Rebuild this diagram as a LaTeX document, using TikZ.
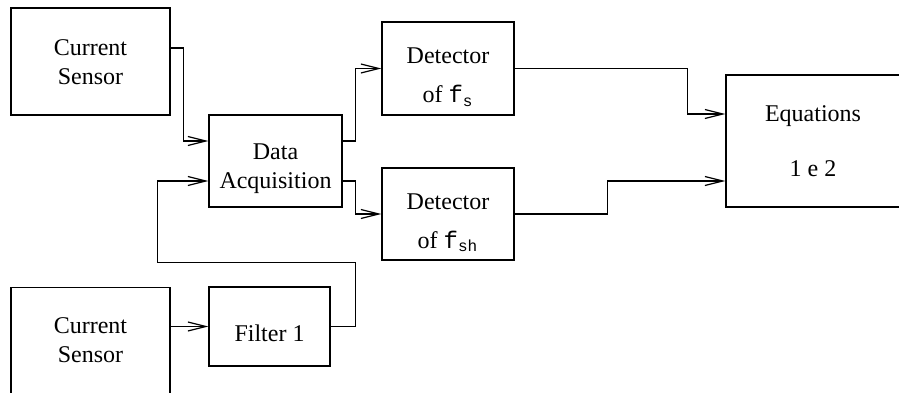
\documentclass[tikz,border=0pt]{standalone}
\usepackage{amsmath}
\usepackage{fontspec}
\setmainfont{Liberation Serif}
\setmonofont{Liberation Mono}
\usepackage{tikz}
\usetikzlibrary{positioning,arrows.meta}

% text set lower in its box, box size unchanged
\newcommand{\lowered}[2]{\raisebox{-#1}[\height][\depth]{\begin{tabular}{@{}c@{}}#2\end{tabular}}}

\begin{document}
\begin{tikzpicture}[
      x=0.5pt, y=-0.5pt,
      box/.style={draw, rectangle, line width=0.6pt, align=center,
                  inner sep=0pt, font=\fontsize{12}{14.5}\selectfont},
      arr/.style={line width=0.6pt, -{Straight Barb[length=9pt,width=4.5pt]}},
    ]
    \useasboundingbox (0,0) rectangle (899,392);
    \clip (0,0) rectangle (899,392);
    \node[box, minimum width=79.5pt, minimum height=53.5pt] (sensA) at (90.5,61.5)
      {\lowered{1.25pt}{Current\\Sensor}};
    \node[box, minimum width=66.5pt, minimum height=46pt] (daq) at (275.5,161)
      {\lowered{3.75pt}{Data\\Acquisition}};
    \node[box, minimum width=66pt, minimum height=46.5pt] (detS) at (448,68.5)
      {\lowered{4.5pt}{Detector\\[5pt]of \texttt{f}$_{\texttt{s}}$}};
    \node[box, minimum width=66pt, minimum height=46pt] (detSH) at (448,214)
      {\lowered{4.5pt}{Detector\\[5pt]of \texttt{f}$_{\texttt{sh}}$}};
    \node[box, minimum width=87pt, minimum height=66pt] (eqn) at (813,141)
      {\lowered{1pt}{Equations\\[13pt]1 e 2}};
    \node[box, minimum width=60.5pt, minimum height=39.5pt] (filt) at (269.5,326.5)
      {\lowered{4.5pt}{Filter 1}};
    \node[box, minimum width=79.5pt, minimum height=53.5pt] (sensB) at (90.5,341)
      {\lowered{0.5pt}{Current\\Sensor}};
    \draw[arr] ([yshift=6.75pt]sensA.east) -- ++(13,0) |- ([yshift=10pt]daq.west);
    \draw[arr] ([yshift=10pt]daq.east) -- ++(13,0) |- (detS.west);
    \draw[arr] ([yshift=-10pt]daq.east) -- ++(13,0) |- (detSH.west);
    \draw[arr] (sensB.east |- filt.west) -- (filt.west);
    \draw[arr] (filt.east) -- ++(25,0) -- ++(0,-64) -- ++(-198,0) |- ([yshift=-10pt]daq.west);
    \draw[arr] (detS.east) -- ++(173,0) |- ([yshift=13.5pt]eqn.west);
    \draw[arr] (detSH.east) -- ++(93,0) |- ([yshift=-20pt]eqn.west);
  \end{tikzpicture}
\end{document}
